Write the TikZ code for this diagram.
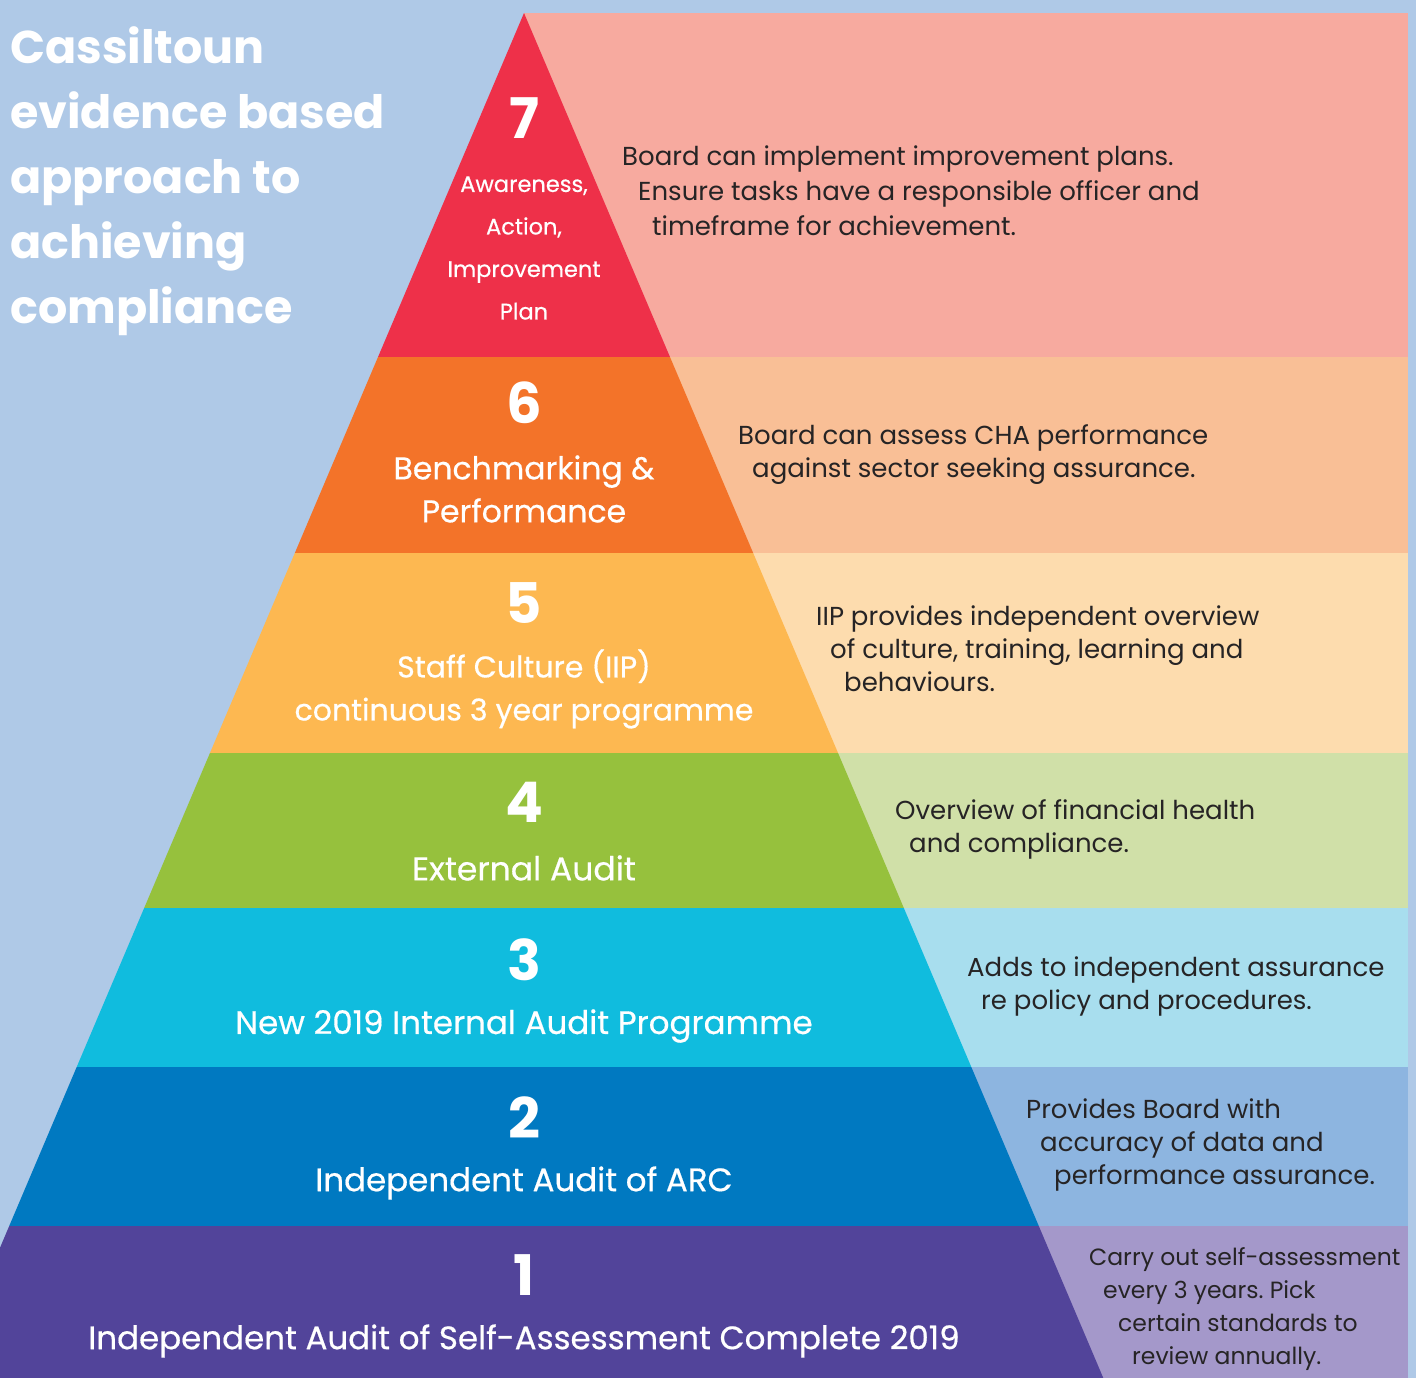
\documentclass[tikz,border=0pt]{standalone}
\usepackage{fontspec}
\setmainfont{Poppins}
\newfontfamily\tierfont{Poppins}[FakeBold=0.5]
\usepackage{tikz}
\frenchspacing

\definecolor{bgblue}{HTML}{AFC9E7}
\definecolor{red7}{HTML}{EE3049}
\definecolor{pink7}{HTML}{F7AA9F}
\definecolor{orange6}{HTML}{F37329}
\definecolor{peach6}{HTML}{F9BF96}
\definecolor{gold5}{HTML}{FDB851}
\definecolor{cream5}{HTML}{FDDCAE}
\definecolor{green4}{HTML}{96C13D}
\definecolor{sage4}{HTML}{D0E0A8}
\definecolor{cyan3}{HTML}{10BCDE}
\definecolor{ice3}{HTML}{A8DEEE}
\definecolor{blue2}{HTML}{0079C1}
\definecolor{sky2}{HTML}{8DB5E0}
\definecolor{purple1}{HTML}{52449A}
\definecolor{lilac1}{HTML}{A498CA}
\definecolor{textdark}{HTML}{262425}

\begin{document}
\begin{tikzpicture}[x=1pt,y=-1pt,
  titletext/.style={text=white,font=\bfseries\fontsize{46}{65}\selectfont,align=left,inner sep=0pt},
  numtext/.style={text=white,font=\bfseries\fontsize{56}{56}\selectfont,inner sep=0pt},
  tiertext/.style={text=white,font=\tierfont\fontsize{#1}{43}\selectfont,align=center,inner sep=0pt},
  tiertext/.default=32,
  desctext/.style={text=textdark,font=\fontsize{#1}{33}\selectfont,align=left,anchor=west,inner sep=0pt},
  desctext/.default=26]

\fill[bgblue] (0,0) rectangle (1416,1378);
\useasboundingbox (0,0) rectangle (1416,1378);

% light bands
\foreach \top/\bot/\col in {13/357/pink7, 357/553/peach6, 553/753/cream5, 753/908/sage4,
    908/1067/ice3, 1067/1226/sky2, 1226/1378/lilac1}
  \fill[\col] (524,\top) rectangle (1408,\bot);

% pyramid
\begin{scope}
\clip (0,0) rectangle (1416,1378);
\foreach \top/\bot/\col in {13/357/red7, 357/553/orange6, 553/753/gold5, 753/908/green4,
    908/1067/cyan3, 1067/1226/blue2, 1226/1378/purple1}{
  \pgfmathsetmacro{\xa}{524-0.4244*(\top-13)}
  \pgfmathsetmacro{\xb}{524+0.4244*(\top-13)}
  \pgfmathsetmacro{\xc}{524+0.4244*(\bot-13)}
  \pgfmathsetmacro{\xd}{524-0.4244*(\bot-13)}
  \fill[\col] (\xa,\top) -- (\xb,\top) -- (\xc,\bot) -- (\xd,\bot) -- cycle;
}
\end{scope}

\node[titletext,anchor=north west] (title) at (10,26)
  {Cassiltoun\\evidence based\\approach to\\achieving\\compliance};

% numbers
\node[numtext] (n7) at (524,118) {7};
\node[numtext] (n6) at (524,403) {6};
\node[numtext] (n5) at (524,603) {5};
\node[numtext] (n4) at (524,802) {4};
\node[numtext] (n3) at (524,960) {3};
\node[numtext] (n2) at (524,1118) {2};
\node[numtext] (n1) at (524,1275) {1};

% tier labels
\node[tiertext,font=\tierfont\fontsize{22.5}{42.5}\selectfont] (l7) at (524,248)
  {Awareness,\\Action,\\Improvement\\Plan};
\node[tiertext=31.5] (l6) at (524,489) {Benchmarking \&\\Performance};
\node[tiertext=30] (l5) at (524,689) {Staff Culture (IIP)\\continuous 3 year programme};
\node[tiertext=33] (l4) at (524,868) {External Audit};
\node[tiertext=32.5] (l3) at (524,1026) {New 2019 Internal Audit Programme};
\node[tiertext=32.5] (l2) at (524,1183) {Independent Audit of ARC};
\node[tiertext=32.5] (l1) at (524,1341) {Independent Audit of Self-Assessment Complete 2019};

% descriptions
\node[desctext,font=\fontsize{26}{35}\selectfont] (d7) at (622,191)
  {Board can implement improvement plans.\\
   \hspace*{16pt}Ensure tasks have a responsible officer and\\
   \hspace*{30pt}timeframe for achievement.};
\node[desctext] (d6) at (738,455)
  {Board can assess CHA performance\\
   \hspace*{14pt}against sector seeking assurance.};
\node[desctext] (d5) at (816,649)
  {IIP provides independent overview\\
   \hspace*{14pt}of culture, training, learning and\\
   \hspace*{28pt}behaviours.};
\node[desctext] (d4) at (895,829)
  {Overview of financial health\\
   \hspace*{14pt}and compliance.};
\node[desctext] (d3) at (967,986)
  {Adds to independent assurance\\
   \hspace*{14pt}re policy and procedures.};
\node[desctext] (d2) at (1026,1145)
  {Provides Board with\\
   \hspace*{14pt}accuracy of data and\\
   \hspace*{28pt}performance assurance.};
\node[desctext=23.5] (d1) at (1089,1309)
  {Carry out self-assessment\\
   \hspace*{14pt}every 3 years. Pick\\
   \hspace*{29pt}certain standards to\\
   \hspace*{43pt}review annually.};
\end{tikzpicture}
\end{document}
